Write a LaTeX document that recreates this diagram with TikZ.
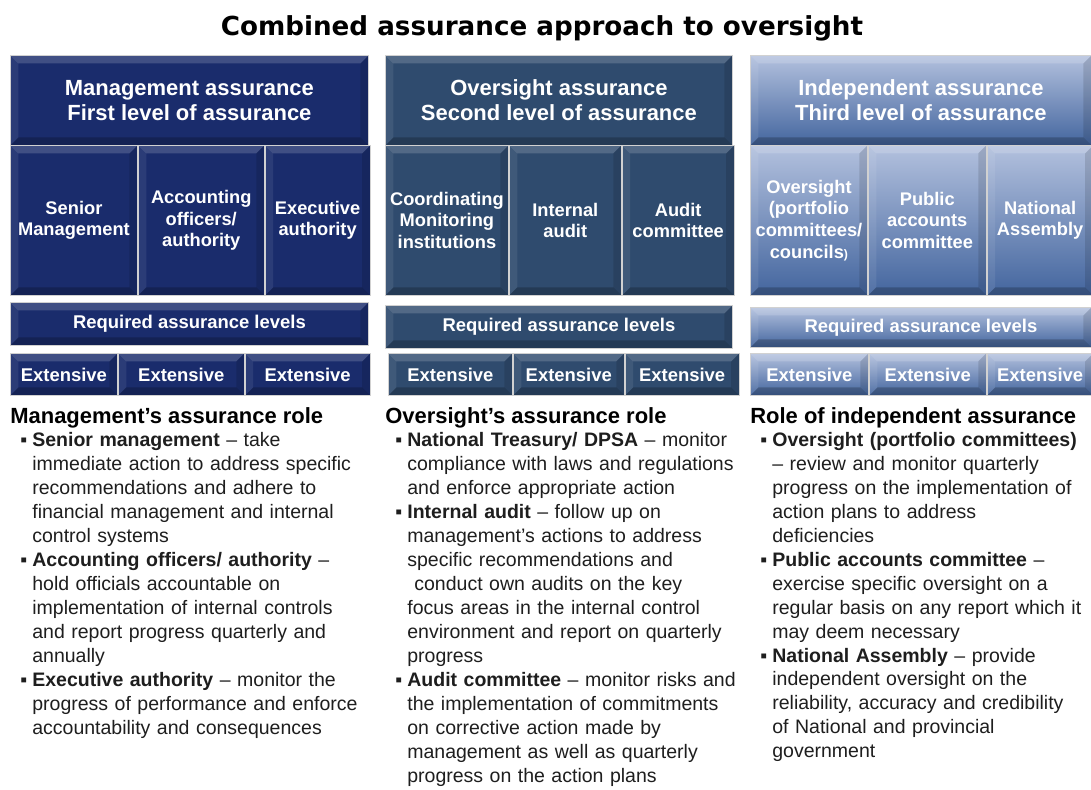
\documentclass[tikz,border=0pt]{standalone}
\usepackage{fontspec}
\setmainfont{Liberation Sans}
\newfontfamily\titlefont{DejaVu Sans}
\usetikzlibrary{positioning}

\definecolor{mgmtblue}{HTML}{1A2C6C}
\definecolor{oversblue}{HTML}{2F4B6E}
\definecolor{indtop}{HTML}{B3C1DE}
\definecolor{indbot}{HTML}{43659E}
\definecolor{bodytext}{HTML}{1E1E1E}

% one bullet paragraph of the role lists
\newcommand{\bitem}[2]{{\leftskip=0.44cm\noindent\llap{\makebox[0.44cm][l]{\hspace{0.2cm}▪}}\textbf{#1}#2\par}}

\begin{document}
\begin{tikzpicture}[
    x=0.02cm, y=-0.02cm,
    bevel/.style={path picture={
        \coordinate (bnw) at (path picture bounding box.north west);
        \coordinate (bne) at (path picture bounding box.north east);
        \coordinate (bsw) at (path picture bounding box.south west);
        \coordinate (bse) at (path picture bounding box.south east);
        \fill[white, opacity=.17] (bnw) -- (bne) -- ([shift={(-#1,#1)}]bne) -- ([shift={(#1,#1)}]bnw) -- cycle;
        \fill[white, opacity=.08] (bnw) -- ([shift={(#1,#1)}]bnw) -- ([shift={(#1,-#1)}]bsw) -- (bsw) -- cycle;
        \fill[black, opacity=.22] (bsw) -- (bse) -- ([shift={(-#1,-#1)}]bse) -- ([shift={(#1,-#1)}]bsw) -- cycle;
        \fill[black, opacity=.12] (bne) -- (bse) -- ([shift={(-#1,-#1)}]bse) -- ([shift={(-#1,#1)}]bne) -- cycle;
    }},
    bevel/.default=8,
    box/.style={anchor=north west, inner sep=0pt, draw=black!18, line width=.5pt, text=white, align=center},
    mgmtbox/.style={box, fill=mgmtblue, bevel},
    oversbox/.style={box, fill=oversblue, bevel},
    indbox/.style={box, top color=indtop, bottom color=indbot, bevel},
    hdrtext/.style={font=\fontsize{12.5}{14.2}\selectfont\bfseries},
    subtext/.style={font=\fontsize{10.4}{12.3}\selectfont\bfseries},
    lvltext/.style={font=\fontsize{10.5}{12}\selectfont\bfseries},
    titletext/.style={font=\titlefont\fontsize{14.9}{17}\selectfont\bfseries},
    rolehead/.style={anchor=north west, inner sep=0pt, font=\fontsize{12.5}{14}\selectfont\bfseries},
    roletext/.style={inner sep=0pt, text width=8.2cm, align=left, text=bodytext, font=\fontsize{11.1}{13.65}\selectfont},
]
    \fill[white] (0,0) rectangle (1091,789);
    \useasboundingbox (0,0) rectangle (1091,789);

    \node[titletext] (title) at (542,28) {Combined assurance approach to oversight};

    % first level
    \node[mgmtbox, hdrtext, minimum width=7.16cm, minimum height=1.8cm] (mgmt) at (10,55) {Management assurance\\First level of assurance};
    \node[mgmtbox, subtext, minimum width=2.54cm, minimum height=3cm] (senior) at (10,145) {Senior\\Management};
    \node[mgmtbox, subtext, minimum width=2.52cm, minimum height=3cm, right=0pt of senior] (acco) {Accounting\\officers/\\authority};
    \node[mgmtbox, subtext, minimum width=2.1cm, minimum height=3cm, right=0pt of acco] (execauth) {Executive\\authority};
    \node[mgmtbox, lvltext, minimum width=7.16cm, minimum height=0.86cm] (mgmtreq) at (10,302) {Required assurance levels};
    \node[mgmtbox, lvltext, minimum width=2.14cm, minimum height=0.84cm] (mgmtlvla) at (10,353) {Extensive};
    \node[mgmtbox, lvltext, minimum width=2.52cm, minimum height=0.84cm, right=0pt of mgmtlvla] (mgmtlvlb) {Extensive};
    \node[mgmtbox, lvltext, minimum width=2.5cm, minimum height=0.84cm, right=0pt of mgmtlvlb] (mgmtlvlc) {Extensive};

    % second level
    \node[oversbox, hdrtext, minimum width=6.94cm, minimum height=1.8cm] (overs) at (385,55) {Oversight assurance\\Second level of assurance};
    \node[oversbox, subtext, minimum width=2.46cm, minimum height=3cm] (coord) at (385,145) {Coordinating\\Monitoring\\institutions};
    \node[oversbox, subtext, minimum width=2.24cm, minimum height=3cm, right=0pt of coord] (intaudit) {Internal\\audit};
    \node[oversbox, subtext, minimum width=2.24cm, minimum height=3cm, right=0pt of intaudit] (auditcom) {Audit\\committee};
    \node[oversbox, lvltext, minimum width=6.94cm, minimum height=0.86cm] (oversreq) at (385,305) {Required assurance levels};
    \node[oversbox, lvltext, minimum width=2.48cm, minimum height=0.84cm] (overslvla) at (388,353) {Extensive};
    \node[oversbox, lvltext, minimum width=2.22cm, minimum height=0.84cm, right=0pt of overslvla] (overslvlb) {Extensive};
    \node[oversbox, lvltext, minimum width=2.28cm, minimum height=0.84cm, right=0pt of overslvlb] (overslvlc) {Extensive};

    % third level
    \node[indbox, hdrtext, minimum width=6.82cm, minimum height=1.8cm] (indep) at (750,55) {Independent assurance\\Third level of assurance};
    \node[indbox, subtext, minimum width=2.34cm, minimum height=3cm] (portf) at (750,145) {Oversight\\(portfolio\\committees/\\councils{\scriptsize)}};
    \node[indbox, subtext, minimum width=2.36cm, minimum height=3cm, right=0pt of portf] (pubacc) {Public\\accounts\\committee};
    \node[indbox, subtext, minimum width=2.12cm, minimum height=3cm, right=0pt of pubacc] (natass) {National\\Assembly};
    \node[indbox, lvltext, minimum width=6.82cm, minimum height=0.8cm] (indreq) at (750,307) {Required assurance levels};
    \node[indbox, lvltext, minimum width=2.36cm, minimum height=0.84cm] (indlvla) at (750,353) {Extensive};
    \node[indbox, lvltext, minimum width=2.34cm, minimum height=0.84cm, right=0pt of indlvla] (indlvlb) {Extensive};
    \node[indbox, lvltext, minimum width=2.12cm, minimum height=0.84cm, right=0pt of indlvlb] (indlvlc) {Extensive};

    % roles
    \node[rolehead] (mgmtrole) at (10,407) {Management’s assurance role};
    \node[roletext, below=0.07cm of mgmtrole.south west, anchor=north west] (mgmtlist) {%
        \bitem{Senior management}{ – take\newline immediate action to address specific\newline recommendations and adhere to\newline financial management and internal\newline control systems}%
        \bitem{Accounting officers/ authority}{ –\newline hold officials accountable on\newline implementation of internal controls\newline and report progress quarterly and\newline annually}%
        \bitem{Executive authority}{ – monitor the\newline progress of performance and enforce\newline accountability and consequences}};

    \node[rolehead] (oversrole) at (385,407) {Oversight’s assurance role};
    \node[roletext, below=0.07cm of oversrole.south west, anchor=north west] (overslist) {%
        \bitem{National Treasury/ DPSA}{ – monitor\newline compliance with laws and regulations\newline and enforce appropriate action}%
        \bitem{Internal audit}{ – follow up on\newline management’s actions to address\newline specific recommendations and\newline \hspace*{4pt}conduct own audits on the key\newline focus areas in the internal control\newline environment and report on quarterly\newline progress}%
        \bitem{Audit committee}{ – monitor risks and\newline the implementation of commitments\newline on corrective action made by\newline management as well as quarterly\newline progress on the action plans}};

    \node[rolehead] (indrole) at (750,407) {Role of independent assurance};
    \node[roletext, below=0.07cm of indrole.south west, anchor=north west] (indlist) {%
        \bitem{Oversight (portfolio committees)}{\newline – review and monitor quarterly\newline progress on the implementation of\newline action plans to address\newline deficiencies}%
        \bitem{Public accounts committee}{ –\newline exercise specific oversight on a\newline regular basis on any report which it\newline may deem necessary}%
        \bitem{National Assembly}{ – provide\newline independent oversight on the\newline reliability, accuracy and credibility\newline of National and provincial\newline government}};
\end{tikzpicture}
\end{document}
